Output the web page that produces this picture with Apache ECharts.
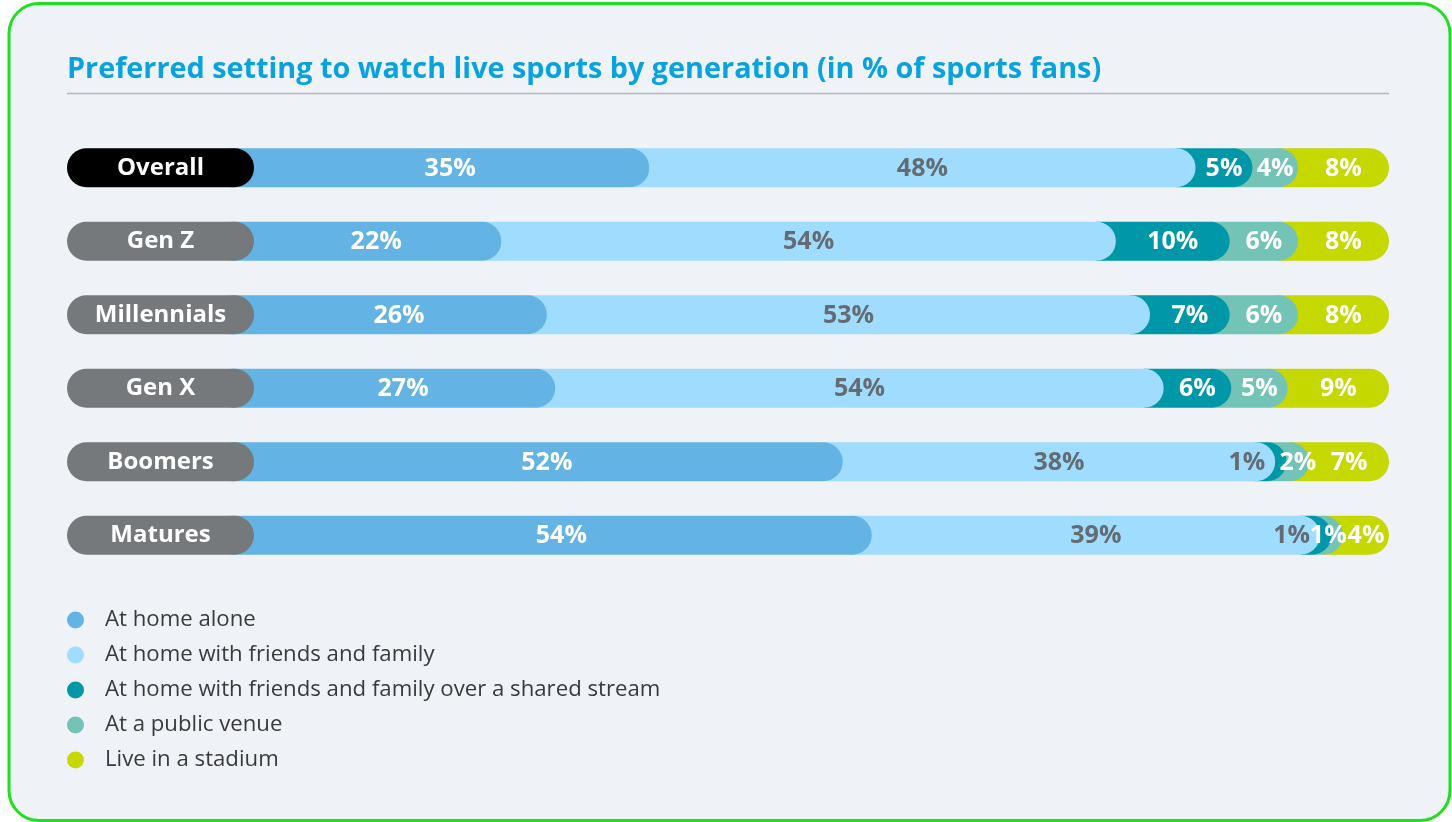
<!DOCTYPE html>
<html><head><meta charset="utf-8">
<script src="https://cdn.jsdelivr.net/npm/echarts@6/dist/echarts.min.js"></script>
<style>html,body{margin:0;padding:0;background:#fff;}#chart{width:1452px;height:822px;}</style>
</head><body><div id="chart"></div>
<script>
const categories = ['Overall', 'Gen Z', 'Millennials', 'Gen X', 'Boomers', 'Matures'];
const seriesNames = ['At home alone', 'At home with friends and family', 'At home with friends and family over a shared stream', 'At a public venue', 'Live in a stadium'];
const homeAlone = [35, 22, 26, 27, 52, 54];
const homeFriends = [48, 54, 53, 54, 38, 39];
const sharedStream = [5, 10, 7, 6, 1, 1];
const publicVenue = [4, 6, 6, 5, 2, 1];
const liveStadium = [8, 8, 8, 9, 7, 4];
const chartTitle = 'Preferred setting to watch live sports by generation (in % of sports fans)';

const valueSets = [homeAlone, homeFriends, sharedStream, publicVenue, liveStadium];
const colors = ['#63b4e4', '#a0dcfd', '#0098a8', '#73c4b6', '#c5d800'];
const labelColors = ['#ffffff', '#646b73', '#ffffff', '#ffffff', '#ffffff'];
const FONT = "'Open Sans', 'Noto Sans', sans-serif";
const BAR_H = 39, R = BAR_H / 2, OVERLAP = 20;

const rowTotals = categories.map((_, r) => valueSets.reduce((s, arr) => s + arr[r], 0));

function buildData(i) {
  return categories.map((_, r) => {
    let before = 0;
    for (let k = 0; k < i; k++) before += valueSets[k][r];
    const v = valueSets[i][r];
    return [r, before / rowTotals[r] * 100, (before + v) / rowTotals[r] * 100, v];
  });
}

function makeRender(i) {
  return function (params, api) {
    const r = api.value(0);
    const p0 = api.coord([api.value(1), r]);
    const p1 = api.coord([api.value(2), r]);
    const x0 = p0[0] - OVERLAP;
    const cy = p0[1];
    const v = api.value(3);
    const children = [{
      type: 'rect',
      shape: { x: x0, y: cy - R, width: p1[0] - x0, height: BAR_H, r: [0, R, R, 0] },
      style: { fill: colors[i] },
      z2: 10 - i
    }];
    let tx = (p0[0] + p1[0]) / 2, align = 'center', fill = labelColors[i];
    // tiny segments: keep labels readable
    if (i === 2 && v <= 1) { tx = p0[0] - 10; align = 'right'; fill = labelColors[1]; }
    if (i === 3 && v <= 1) { tx -= 9; }
    children.push({
      type: 'text', x: tx, y: cy + 1, z2: 100,
      style: { text: v + '%', fill: fill, fontSize: 25, fontWeight: 'bold', fontFamily: FONT, align: align, verticalAlign: 'middle' }
    });
    return { type: 'group', children: children };
  };
}

const pill = { width: 187, height: 39, lineHeight: 39, align: 'center', verticalAlign: 'middle', borderRadius: 19.5, color: '#fff', fontSize: 24, fontWeight: 'bold', fontFamily: FONT };

const option = {
  backgroundColor: '#ffffff',
  animation: false,
  title: {
    text: chartTitle, left: 62, top: 50,
    textStyle: { color: '#08a2df', fontSize: 28.8, fontWeight: 'bold', fontFamily: FONT }
  },
  graphic: { elements: [
    { type: 'rect', z: -10, shape: { x: 9, y: 3.5, width: 1441, height: 817, r: 30 }, style: { fill: '#eff3f8', stroke: '#1fe01f', lineWidth: 3 } },
    { type: 'line', z: -5, shape: { x1: 67, y1: 93.5, x2: 1389, y2: 93.5 }, style: { stroke: '#b2b6bb', lineWidth: 1.6 } }
  ] },
  legend: {
    data: seriesNames, orient: 'vertical', left: 62, top: 604, icon: 'circle',
    itemWidth: 17, itemHeight: 17, itemGap: 13, selectedMode: false,
    textStyle: { fontSize: 22.2, color: '#3a3a3a', fontFamily: FONT, padding: [0, 0, 0, 16] }
  },
  grid: { left: 251, right: 63, top: 131, bottom: 250 },
  xAxis: { type: 'value', min: 0, max: 100, show: false },
  yAxis: {
    type: 'category', data: categories, inverse: true, z: 10,
    axisLine: { show: false }, axisTick: { show: false }, splitLine: { show: false },
    axisLabel: {
      margin: -3,
      formatter: v => v === 'Overall' ? '{dark|' + v + '}' : '{grey|' + v + '}',
      rich: { dark: Object.assign({}, pill, { backgroundColor: '#000000' }), grey: Object.assign({}, pill, { backgroundColor: '#75797c' }) }
    }
  },
  series: seriesNames.map((name, i) => ({
    type: 'custom', name: name, z: 2,
    itemStyle: { color: colors[i] },
    dimensions: ['row', 'start', 'end', 'value'],
    encode: { x: [1, 2], y: 0 },
    renderItem: makeRender(i),
    data: buildData(i)
  }))
};
const chart = echarts.init(document.getElementById('chart'));
chart.setOption(option);
</script></body></html>
